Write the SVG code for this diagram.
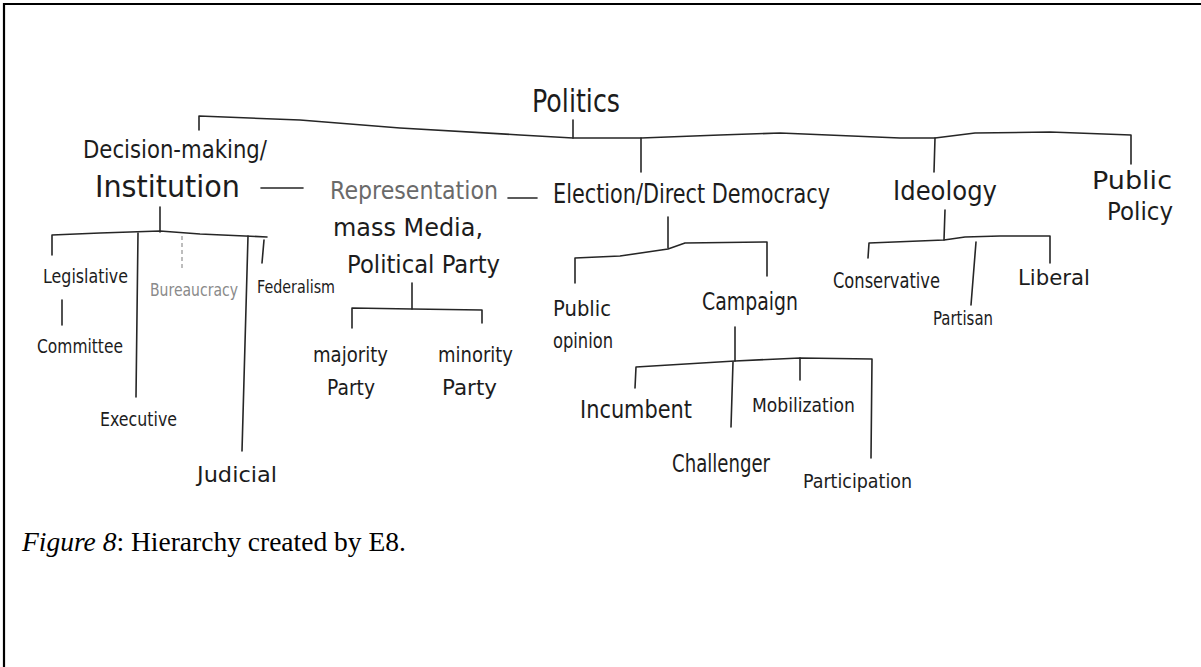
<svg xmlns="http://www.w3.org/2000/svg" width="1201" height="667" viewBox="0 0 1201 667">
  <style>
    .hand { font-family: "DejaVu Sans", "Liberation Sans", sans-serif; fill: #1c1c1c; }
    .faint { fill: #6a6a6a; }
    .pale { fill: #8a8a8a; }
    .conn { fill: none; stroke: #262626; stroke-width: 1.6; stroke-linecap: round; stroke-linejoin: round; }
    .conn-faint { fill: none; stroke: #9a9a9a; stroke-width: 1.3; stroke-dasharray: 4 3; }
    .caption { font-family: "Liberation Serif", "Times New Roman", serif; font-size: 27.5px; fill: #000; }
  </style>

  <rect x="0" y="0" width="1201" height="667" fill="#ffffff"/>
  <!-- page frame (top and left rules) -->
  <path d="M3 4 H1201 M4 3 V667" stroke="#000" stroke-width="2.2" fill="none"/>

  <!-- connectors -->
  <g id="connectors">
    <!-- root bar -->
    <polyline class="conn" points="199,130 199,116 300,120 400,128 520,135 573,138 641,138 720,135 780,133 900,138 935,138 975,133 1050,132 1131,135 1131,164"/>
    <line class="conn" x1="573" y1="120" x2="573" y2="138"/>
    <line class="conn" x1="641" y1="138" x2="641" y2="172"/>
    <line class="conn" x1="935" y1="138" x2="934" y2="172"/>
    <!-- same-level dashes -->
    <line class="conn" x1="261" y1="188" x2="303" y2="188"/>
    <line class="conn" x1="508" y1="198" x2="537" y2="198"/>

    <!-- Institution branch -->
    <line class="conn" x1="160" y1="207" x2="160" y2="232"/>
    <polyline class="conn" points="52,255 52,235 100,233 160,231 200,234 267,237"/>
    <line class="conn" x1="138" y1="233" x2="136" y2="397"/>
    <line class="conn-faint" x1="182" y1="236" x2="182" y2="271"/>
    <line class="conn" x1="248" y1="236" x2="242" y2="451"/>
    <line class="conn" x1="264" y1="240" x2="262" y2="263"/>
    <line class="conn" x1="62" y1="300" x2="62" y2="325"/>

    <!-- Political Party branch -->
    <line class="conn" x1="412" y1="283" x2="412" y2="309"/>
    <polyline class="conn" points="352,328 352,308 412,309 482,310 482,323"/>

    <!-- Election branch -->
    <line class="conn" x1="668" y1="217" x2="668" y2="248"/>
    <polyline class="conn" points="575,283 575,258 620,256 668,249 685,243 767,242 767,276"/>

    <!-- Campaign branch -->
    <line class="conn" x1="735" y1="327" x2="735" y2="361"/>
    <polyline class="conn" points="635,388 636,367 735,361 800,358 872,359 871,458"/>
    <line class="conn" x1="800" y1="358" x2="800" y2="380"/>
    <line class="conn" x1="733" y1="362" x2="731" y2="427"/>

    <!-- Ideology branch -->
    <line class="conn" x1="945" y1="210" x2="944" y2="240"/>
    <polyline class="conn" points="868,258 869,243 944,240 965,237 1000,236 1050,236 1050,263"/>
    <line class="conn" x1="976" y1="242" x2="971" y2="305"/>
  </g>

  <g id="n-politics"><text class="hand" x="532" y="112" font-size="32" textLength="88" lengthAdjust="spacingAndGlyphs">Politics</text></g>

  <g id="n-institution">
    <text class="hand" x="83" y="158" font-size="24" textLength="184" lengthAdjust="spacingAndGlyphs">Decision-making/</text>
    <text class="hand" x="95" y="197" font-size="30" textLength="145" lengthAdjust="spacingAndGlyphs">Institution</text>
  </g>
  <g id="n-legislative"><text class="hand" x="43" y="283" font-size="20" textLength="85" lengthAdjust="spacingAndGlyphs">Legislative</text></g>
  <g id="n-committee"><text class="hand" x="37" y="353" font-size="20" textLength="86" lengthAdjust="spacingAndGlyphs">Committee</text></g>
  <g id="n-executive"><text class="hand" x="100" y="426" font-size="20" textLength="77" lengthAdjust="spacingAndGlyphs">Executive</text></g>
  <g id="n-bureaucracy"><text class="hand pale" x="150" y="296" font-size="18" textLength="88" lengthAdjust="spacingAndGlyphs">Bureaucracy</text></g>
  <g id="n-judicial"><text class="hand" x="197" y="482" font-size="22" textLength="80" lengthAdjust="spacingAndGlyphs">Judicial</text></g>
  <g id="n-federalism"><text class="hand" x="257" y="293" font-size="18" textLength="78" lengthAdjust="spacingAndGlyphs">Federalism</text></g>

  <g id="n-representation">
    <text class="hand faint" x="330" y="199" font-size="24" textLength="168" lengthAdjust="spacingAndGlyphs">Representation</text>
    <text class="hand" x="333" y="236" font-size="24" textLength="150" lengthAdjust="spacingAndGlyphs">mass Media,</text>
    <text class="hand" x="347" y="273" font-size="24" textLength="153" lengthAdjust="spacingAndGlyphs">Political Party</text>
  </g>
  <g id="n-majority">
    <text class="hand" x="313" y="362" font-size="22" textLength="75" lengthAdjust="spacingAndGlyphs">majority</text>
    <text class="hand" x="327" y="395" font-size="22" textLength="48" lengthAdjust="spacingAndGlyphs">Party</text>
  </g>
  <g id="n-minority">
    <text class="hand" x="438" y="362" font-size="22" textLength="75" lengthAdjust="spacingAndGlyphs">minority</text>
    <text class="hand" x="442" y="395" font-size="22" textLength="55" lengthAdjust="spacingAndGlyphs">Party</text>
  </g>

  <g id="n-election"><text class="hand" x="553" y="203" font-size="26" textLength="277" lengthAdjust="spacingAndGlyphs">Election/Direct Democracy</text></g>
  <g id="n-public-opinion">
    <text class="hand" x="553" y="316" font-size="22" textLength="58" lengthAdjust="spacingAndGlyphs">Public</text>
    <text class="hand" x="553" y="348" font-size="22" textLength="60" lengthAdjust="spacingAndGlyphs">opinion</text>
  </g>
  <g id="n-campaign"><text class="hand" x="702" y="310" font-size="24" textLength="96" lengthAdjust="spacingAndGlyphs">Campaign</text></g>
  <g id="n-incumbent"><text class="hand" x="580" y="418" font-size="24" textLength="112" lengthAdjust="spacingAndGlyphs">Incumbent</text></g>
  <g id="n-challenger"><text class="hand" x="672" y="472" font-size="24" textLength="98" lengthAdjust="spacingAndGlyphs">Challenger</text></g>
  <g id="n-mobilization"><text class="hand" x="752" y="412" font-size="20" textLength="103" lengthAdjust="spacingAndGlyphs">Mobilization</text></g>
  <g id="n-participation"><text class="hand" x="803" y="488" font-size="20" textLength="109" lengthAdjust="spacingAndGlyphs">Participation</text></g>

  <g id="n-ideology"><text class="hand" x="893" y="200" font-size="26" textLength="104" lengthAdjust="spacingAndGlyphs">Ideology</text></g>
  <g id="n-conservative"><text class="hand" x="833" y="288" font-size="22" textLength="107" lengthAdjust="spacingAndGlyphs">Conservative</text></g>
  <g id="n-partisan"><text class="hand" x="933" y="325" font-size="20" textLength="60" lengthAdjust="spacingAndGlyphs">Partisan</text></g>
  <g id="n-liberal"><text class="hand" x="1018" y="285" font-size="22" textLength="72" lengthAdjust="spacingAndGlyphs">Liberal</text></g>

  <g id="n-public-policy">
    <text class="hand" x="1092" y="189" font-size="24" textLength="80" lengthAdjust="spacingAndGlyphs">Public</text>
    <text class="hand" x="1107" y="220" font-size="24" textLength="66" lengthAdjust="spacingAndGlyphs">Policy</text>
  </g>

  <text class="caption" x="22" y="551"><tspan font-style="italic">Figure 8</tspan>: Hierarchy created by E8.</text>
</svg>
